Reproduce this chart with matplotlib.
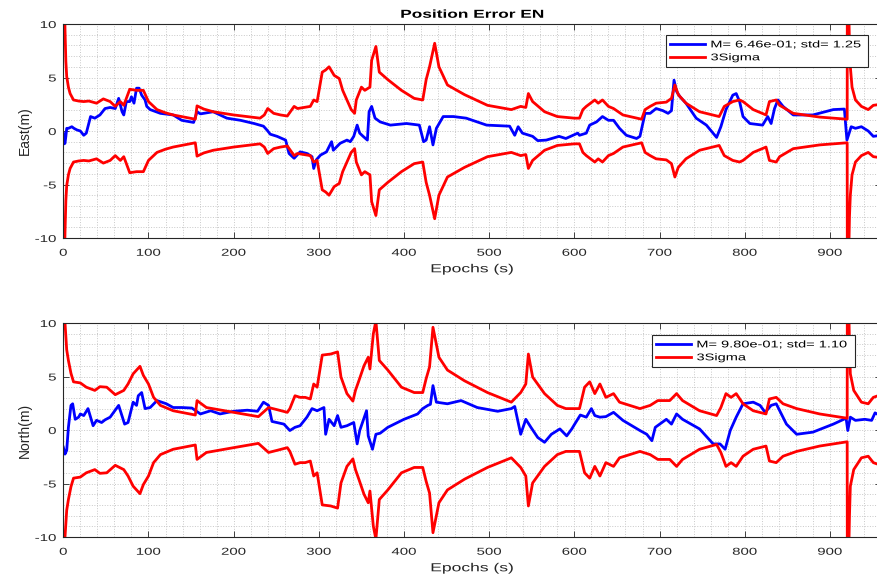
import numpy as np
import matplotlib
matplotlib.use("Agg")
import matplotlib.pyplot as plt
from matplotlib.patheffects import AbstractPathEffect
from matplotlib.transforms import Affine2D

plt.rcParams['font.family'] = ['Liberation Sans', 'DejaVu Sans']
plt.rcParams['axes.unicode_minus'] = False

# ---------------- East ----------------
east_sig_t = [0, 1, 2, 3, 4, 6, 8, 12, 18, 24, 30, 39, 47, 55, 61, 67, 71, 78, 86, 94, 100, 110, 120, 129, 142, 155,
              157, 165, 176, 200, 231, 236, 240, 247, 255, 263, 271, 275, 290, 294, 298, 304, 308, 312, 318, 324, 328,
              338, 342, 344, 350, 354, 360, 362, 367, 371, 381, 397, 412, 422, 426, 430, 436, 441, 451, 471, 498, 526,
              537, 543, 546, 551, 565, 580, 600, 606, 610, 614, 624, 628, 633, 640, 646, 657, 679, 683, 689, 696, 708,
              714, 718, 722, 731, 747, 770, 776, 786, 794, 798, 810, 825, 829, 837, 841, 857, 888, 920.3, 921, 922,
              923, 924, 926, 930, 937, 945, 951, 960]
east_sig = [30, 14, 9.5, 6.5, 5.1, 4.1, 3.5, 2.9, 2.8, 2.75, 2.8, 2.6, 3.0, 2.75, 2.3, 2.75, 2.4, 3.9, 3.8, 3.8, 2.75,
            2.0, 1.7, 1.5, 1.3, 1.1, 2.35, 2.05, 1.8, 1.5, 1.2, 1.5, 2.1, 1.65, 1.5, 1.4, 2.3, 2.1, 2.3, 2.9, 2.75, 5.5,
            5.7, 6.0, 5.2, 4.9, 3.8, 2.0, 1.65, 2.9, 4.1, 3.8, 4.1, 6.6, 7.9, 5.5, 4.8, 3.8, 3.05, 2.9, 4.8, 6.0, 8.2,
            6.0, 4.3, 3.4, 2.4, 2.0, 2.3, 2.2, 3.5, 2.75, 1.8, 1.35, 1.2, 1.2, 2.0, 2.3, 2.9, 2.6, 2.9, 2.3, 2.1, 1.5,
            1.1, 2.0, 2.3, 2.6, 2.7, 3.05, 4.3, 3.4, 2.6, 1.8, 1.35, 2.3, 2.75, 2.9, 2.75, 2.0, 1.5, 2.75, 2.9, 2.4,
            1.65, 1.3, 1.1, 60, 12, 8, 6.0, 4.1, 2.9, 2.3, 2.0, 2.4, 2.5]

east_err_t = [0, 1, 2, 3, 4, 6, 10, 12.5, 16, 20, 24, 27, 32, 37, 43, 49, 55, 61, 65, 69, 71, 74, 78, 80, 83, 86, 89,
              92, 96, 98, 102, 114, 129, 139, 153, 157, 161, 176, 192, 208, 224, 235, 239, 243, 251, 261, 265, 271,
              278, 286, 292, 294, 297, 302, 309, 315, 317, 325, 333, 337, 341, 345, 348, 352, 357, 359, 362, 366, 372,
              384, 403, 418, 423, 426, 430, 434, 438, 446, 458, 473, 497, 524, 530, 534, 539, 551, 557, 567, 582, 590,
              604, 606, 614, 618, 626, 633, 640, 646, 653, 661, 673, 677, 683, 689, 696, 704, 710, 714, 717, 720, 724,
              731, 743, 755, 767, 772, 778, 786, 790, 794, 798, 806, 821, 827, 831, 835, 839, 845, 857, 880, 904, 917,
              920, 925, 930, 937, 945, 951, 960]
east_err = [-0.2, -1.2, -1.15, -0.5, 0.25, 0.25, 0.4, 0.25, 0.1, 0, -0.4, -0.2, 1.35, 1.2, 1.5, 2.1, 2.2, 2.1, 3.05,
            1.8, 1.5, 2.75, 2.75, 3.2, 2.6, 4.0, 4.0, 3.35, 2.9, 2.3, 2.0, 1.65, 1.5, 1.0, 0.8, 1.8, 1.6, 1.8, 1.2, 1.0,
            0.7, 0.45, 0.1, -0.3, -0.5, -0.85, -2.1, -2.55, -1.95, -2.1, -2.4, -3.5, -2.7, -2.25, -1.95, -1.0, -1.8,
            -1.15, -0.85, -1.0, -0.5, 0.55, -0.2, -0.5, -0.85, 1.8, 2.3, 1.2, 0.85, 0.55, 0.7, 0.55, -1.0, -0.85, 0.4,
            -1.3, 0.25, 1.35, 1.35, 1.2, 0.55, 0.45, -0.4, 0.4, -0.2, -0.5, -0.9, -0.85, -0.5, -0.7, -0.2, -0.4, -0.2,
            0.55, 0.85, 1.35, 1.0, 1.0, 0.25, -0.4, -0.7, -0.5, 1.65, 1.65, 2.1, 1.9, 1.65, 1.9, 4.75, 3.7, 3.2, 2.6,
            1.2, 0.55, -0.6, 0.4, 2.0, 3.35, 3.5, 2.75, 1.35, 0.7, 0.55, 1.35, 0.7, 2.1, 2.9, 2.3, 1.5, 1.5, 2.0, 2.05,
            -0.85, 0.4, 0.25, 0.4, 0, -0.5, -0.4]

# ---------------- North ----------------
north_sig_t = [0, 1, 2, 4, 6, 9, 12, 20, 27, 37, 43, 51, 61, 71, 76, 82, 90, 94, 100, 106, 114, 129, 155, 157, 168,
               200, 229, 241, 251, 263, 266, 272, 278, 284, 290, 294, 298, 304, 314, 322, 326, 333, 340, 343, 347, 353,
               358, 360, 364, 367, 371, 381, 397, 412, 422, 426, 430, 434, 441, 451, 471, 498, 526, 537, 543, 546, 551,
               565, 580, 590, 606, 612, 618, 624, 630, 637, 646, 653, 677, 689, 698, 712, 720, 727, 747, 767, 772, 778,
               784, 790, 798, 810, 825, 829, 837, 845, 861, 888, 920.3, 921, 922, 923, 924, 928, 937, 945, 951, 960]
north_sig = [35, 18, 10, 7.5, 6.5, 5.3, 4.5, 4.4, 4.0, 3.7, 4.05, 4.0, 3.3, 3.7, 4.3, 5.25, 5.95, 5.1, 4.3, 3.05, 2.3,
             1.8, 1.4, 2.75, 2.1, 1.65, 1.25, 2.1, 1.9, 1.65, 2.0, 3.2, 3.05, 3.05, 2.9, 4.3, 4.0, 7.0, 7.1, 7.3, 4.95,
             3.4, 2.7, 3.7, 4.6, 6.0, 6.8, 5.7, 9.0, 10.2, 6.5, 5.6, 4.0, 3.5, 3.5, 4.8, 5.9, 9.6, 6.8, 5.6, 4.6, 3.5,
             2.6, 3.5, 4.3, 7.1, 4.95, 3.4, 2.3, 2.0, 2.0, 4.0, 4.5, 3.4, 4.3, 3.05, 3.4, 2.6, 2.0, 2.3, 2.75, 2.75,
             3.4, 2.75, 1.8, 1.35, 2.1, 3.4, 3.05, 3.4, 2.45, 1.8, 1.5, 2.9, 3.05, 2.45, 2.0, 1.5, 1.1, 60, 12, 8, 5.25,
             3.7, 2.6, 2.45, 3.05, 3.3]

north_err_t = [0, 2, 4, 6, 9, 11, 14, 18, 20, 24, 29, 35, 39, 45, 49, 55, 65, 72, 76, 82, 86, 88, 92, 96, 102, 110,
               121, 129, 139, 151, 161, 173, 184, 200, 216, 228, 235, 241, 245, 259, 266, 272, 278, 286, 292, 298, 306,
               308, 312, 318, 322, 326, 333, 341, 345, 348, 356, 358, 363, 367, 372, 381, 400, 416, 422, 428, 431, 434,
               438, 451, 467, 486, 510, 526, 530, 537, 543, 549, 557, 565, 573, 583, 591, 597, 600, 607, 614, 620, 624,
               630, 637, 646, 657, 677, 685, 691, 695, 708, 714, 720, 727, 747, 763, 771, 777, 783, 790, 798, 810, 818,
               824, 831, 837, 849, 861, 880, 904, 919, 921, 924, 930, 941, 949, 953, 960]
north_err = [-1.6, -2.25, -1.9, 0.25, 2.3, 2.45, 1.0, 1.2, 1.5, 1.35, 2.0, 0.4, 0.9, 0.7, 0.95, 1.2, 2.3, 0.55, 0.7,
             2.6, 2.3, 3.2, 3.5, 2.0, 2.1, 2.75, 2.45, 2.1, 2.1, 2.05, 1.5, 1.8, 1.5, 1.75, 1.85, 1.75, 2.6, 2.3, 0.8,
             0.55, -0.05, 0.25, 0.4, 1.2, 2.0, 1.8, 2.1, -0.4, 1.0, 0.4, 1.35, 0.25, 0.4, 0.7, -1.3, -0.05, 1.8, -0.55,
             -1.8, -0.4, -0.3, 0.25, 1.0, 1.5, 2.0, 2.3, 2.4, 4.15, 2.6, 2.45, 2.75, 2.1, 1.75, 2.0, 2.2, -0.4, 1.0,
             0.25, -0.7, -1.15, -0.4, 0.1, -0.55, 0.1, 0.5, 1.4, 1.2, 2.0, 1.35, 1.2, 1.25, 1.65, 0.9, -0.05, -0.4,
             -1.0, 0.25, 1.0, 0.55, 1.5, 1.0, 0.1, -1.3, -1.3, -1.8, -0.05, 1.2, 2.45, 2.6, 2.3, 1.65, 2.3, 2.45, 0.55,
             -0.4, -0.2, 0.55, 1.1, -0.05, 1.2, 0.9, 1.0, 0.9, 1.6, 1.3]

x_ticks = [0, 100, 200, 300, 400, 500, 600, 700, 800, 900]
y_ticks = [-10, -5, 0, 5, 10]
east_label = "M= 6.46e-01; std= 1.25"
north_label = "M= 9.80e-01; std= 1.10"


class HStretch(AbstractPathEffect):
    """Draw text stretched horizontally (the reference is a widened render)."""
    def __init__(self, sx=1.5, anchor='center'):
        super().__init__()
        self.sx = sx
        self.anchor = anchor

    def draw_path(self, renderer, gc, tpath, affine, rgbFace=None):
        ext = tpath.get_extents(affine)
        if self.anchor == 'left':
            cx = ext.x0
        elif self.anchor == 'right':
            cx = ext.x1
        else:
            cx = 0.5 * (ext.x0 + ext.x1)
        t = affine + Affine2D().translate(-cx, 0).scale(self.sx, 1).translate(cx, 0)
        renderer.draw_path(gc, tpath, t, rgbFace)


SX = 1.5
W, H = 878, 575
fig = plt.figure(figsize=(W / 100, H / 100), dpi=100)


def px_axes(left, top, right, bottom):
    return fig.add_axes([left / W, 1 - bottom / H, (right - left) / W, (bottom - top) / H])


ax1 = px_axes(63.3, 24, 881, 238)
ax2 = px_axes(63.3, 323, 881, 537)
TXT = '#262626'


def style(ax, ylabel):
    ax.set_xlim(0, 960)
    ax.set_ylim(-10, 10)
    ax.set_xticks(x_ticks)
    ax.set_yticks(y_ticks)
    ax.set_xticks(np.arange(0, 961, 20), minor=True)
    ax.set_yticks(np.arange(-10, 11, 1), minor=True)
    ax.grid(which='both', color='#c8c8c8', linestyle=':', linewidth=0.7)
    ax.set_axisbelow(True)
    ax.tick_params(which='major', direction='in', length=4, width=0.6, top=True, right=True,
                   labelsize=7.2, colors=TXT)
    ax.tick_params(axis='x', which='major', pad=7)
    ax.tick_params(axis='y', which='major', pad=5)
    ax.tick_params(which='minor', length=0)
    for s in ax.spines.values():
        s.set_linewidth(0.8)
        s.set_color(TXT)
    for lab in ax.get_xticklabels():
        lab.set_path_effects([HStretch(SX, 'center')])
    for lab in ax.get_yticklabels():
        lab.set_path_effects([HStretch(SX, 'right')])
    ax.set_ylabel(ylabel, fontsize=10, color=TXT, labelpad=7)
    xl = ax.set_xlabel('Epochs (s)', fontsize=8.4, color=TXT, labelpad=4)
    xl.set_path_effects([HStretch(SX, 'center')])


def draw(ax, et, ev, st, sv, label, box):
    ax.plot(et, ev, color='#0000ff', lw=2.0, label=label)
    ax.plot(st, sv, color='#ff0000', lw=2.0, label='3Sigma')
    ax.plot(st, -np.asarray(sv), color='#ff0000', lw=2.0)
    x0, y0, x1, y1 = box
    leg = ax.legend(loc='upper left', mode='expand',
                    bbox_to_anchor=(x0 / W, 1 - y1 / H, (x1 - x0) / W, (y1 - y0) / H),
                    bbox_transform=fig.transFigure,
                    prop={'size': 7.0}, fancybox=False, framealpha=1,
                    edgecolor=TXT, handlelength=3.6, borderpad=0.45, labelspacing=0.3,
                    handletextpad=0.55, borderaxespad=0.0)
    leg.get_frame().set_linewidth(0.8)
    for t in leg.get_texts():
        t.set_color('#000000')
        t.set_path_effects([HStretch(SX, 'left')])
    return leg


style(ax1, 'East(m)')
style(ax2, 'North(m)')
draw(ax1, east_err_t, east_err, east_sig_t, east_sig, east_label, (666, 35, 868, 67))
draw(ax2, north_err_t, north_err, north_sig_t, north_sig, north_label, (652, 335, 855, 367))
ttl = ax1.set_title('Position Error EN', fontsize=8.3, fontweight='bold', pad=4.5, color='#000000')
ttl.set_path_effects([HStretch(SX, 'center')])

fig.savefig('out.png', dpi=100)
